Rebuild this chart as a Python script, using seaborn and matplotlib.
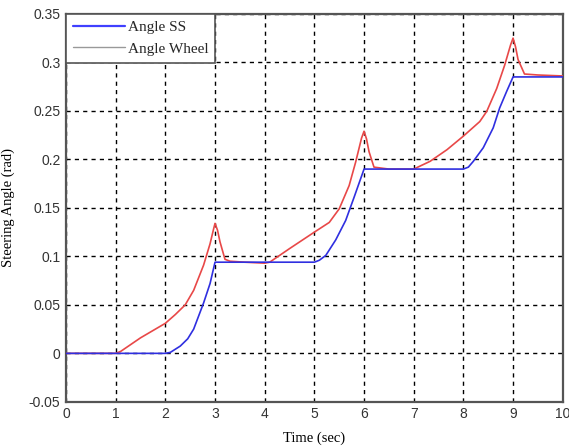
import pandas as pd
import numpy as np
import matplotlib
matplotlib.use("Agg")
import matplotlib.pyplot as plt
from matplotlib.lines import Line2D
import seaborn as sns

# values
time_wheel = [0, 1, 1.1, 1.5, 2, 2.2, 2.4, 2.57, 2.77, 2.9, 2.97, 3.0, 3.05, 3.1, 3.2, 3.3, 3.6, 4.0,
              4.1, 4.5, 5.0, 5.3, 5.5, 5.7, 5.83, 5.95, 6.0, 6.05, 6.1, 6.2, 6.5, 7.0,
              7.33, 7.67, 8.0, 8.33, 8.47, 8.67, 8.83, 8.95, 9.0, 9.05, 9.1, 9.23, 9.5, 10]
angle_wheel = [0, 0, 0.002, 0.016, 0.031, 0.04, 0.05, 0.065, 0.091, 0.113, 0.128, 0.134, 0.127, 0.115, 0.097, 0.095, 0.094, 0.093,
               0.094, 0.108, 0.125, 0.135, 0.149, 0.173, 0.197, 0.222, 0.229, 0.221, 0.208, 0.192, 0.19, 0.19,
               0.198, 0.21, 0.224, 0.239, 0.2495, 0.273, 0.297, 0.318, 0.325, 0.316, 0.303, 0.288, 0.287, 0.286]

time_ss = [0, 2, 2.1, 2.3, 2.45, 2.57, 2.77, 2.9, 3.0, 5.0, 5.1, 5.23, 5.43, 5.63, 5.8, 6.0,
           8.0, 8.1, 8.2, 8.4, 8.6, 8.73, 8.87, 9.0, 10]
angle_ss = [0, 0, 0.001, 0.0075, 0.015, 0.025, 0.052, 0.072, 0.094, 0.094, 0.096, 0.101, 0.117, 0.137, 0.161, 0.19,
            0.19, 0.192, 0.198, 0.212, 0.2325, 0.253, 0.27, 0.285, 0.285]

x_ticks = list(range(0, 11))
y_ticks = [-0.05, 0, 0.05, 0.1, 0.15, 0.2, 0.25, 0.3, 0.35]
y_labels = ["-0.05", "0", "0.05", "0.1", "0.15", "0.2", "0.25", "0.3", "0.35"]

sns.set_theme(style="white")
plt.rcParams["font.family"] = ["Liberation Sans", "DejaVu Sans"]

fig = plt.figure(figsize=(5.69, 4.48), dpi=100)
ax = fig.add_axes([0.116, 0.103, 0.873, 0.866])

df_wheel = pd.DataFrame({"t": time_wheel, "v": angle_wheel})
df_ss = pd.DataFrame({"t": time_ss, "v": angle_ss})

sns.lineplot(data=df_wheel, x="t", y="v", ax=ax, color="#e84848", linewidth=1.2, zorder=3)
sns.lineplot(data=df_ss, x="t", y="v", ax=ax, color="#2f2fe0", linewidth=1.2, zorder=4)

ax.set_xlim(0, 10)
ax.set_ylim(-0.05, 0.35)
ax.set_xticks(x_ticks)
ax.set_yticks(y_ticks)
ax.set_yticklabels(y_labels)
ax.tick_params(axis="both", labelsize=10, colors="#333333", direction="in", length=0, pad=4)

ax.grid(True, color="black", linestyle=(0, (3, 3)), linewidth=1.0)
for s in ax.spines.values():
    s.set_color("#555555")
    s.set_linewidth(1.6)

ax.set_xlabel("Time (sec)", family="Liberation Serif", fontsize=10.5, color="black", labelpad=7)
ax.set_ylabel("Steering Angle (rad)", family="Liberation Serif", fontsize=10.5, color="black", labelpad=10)

handles = [Line2D([], [], color="#4040ff", linewidth=1.6),
           Line2D([], [], color="#999999", linewidth=1.0)]
leg = ax.legend(handles, ["Angle SS", "Angle Wheel"], loc="upper left",
                prop={"family": "Liberation Serif", "size": 11},
                frameon=True, fancybox=False, framealpha=1, borderaxespad=0,
                handlelength=3.4, handletextpad=0.2, borderpad=0.45, labelspacing=0.5)
leg.get_frame().set_edgecolor("#555555")
leg.get_frame().set_linewidth(1.2)
leg.set_zorder(10)

fig.savefig("out.png", dpi=100)
